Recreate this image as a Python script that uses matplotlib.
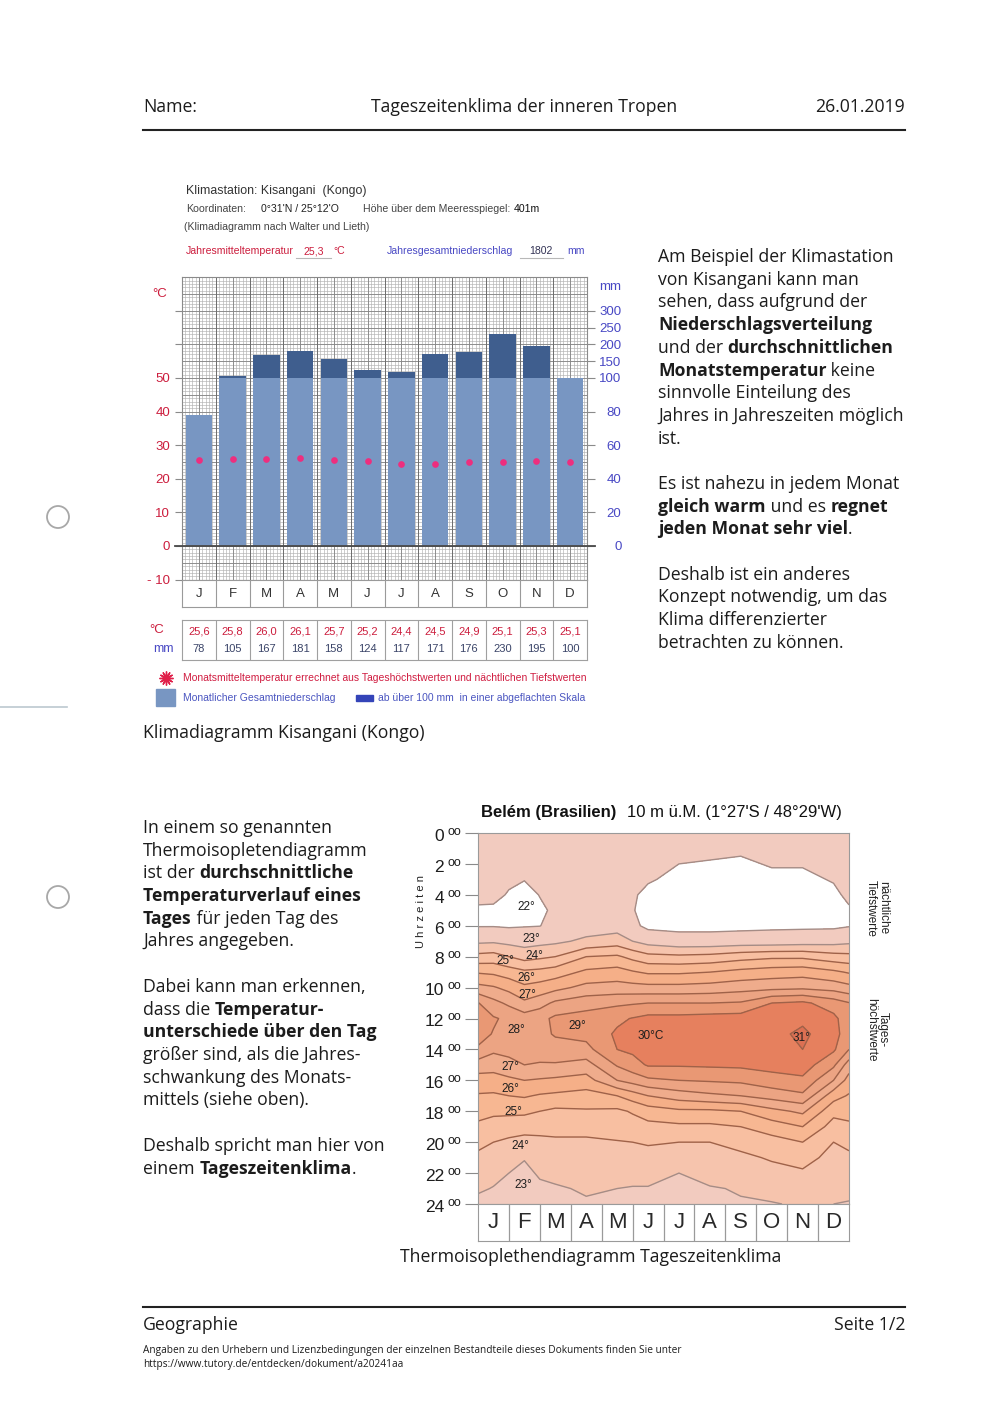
import numpy as np
import matplotlib
matplotlib.use("Agg")
import matplotlib.pyplot as plt
from matplotlib.lines import Line2D
from matplotlib.patches import Rectangle, Ellipse

W, H = 1000, 1416

# ---------------- Klimadiagramm Kisangani ----------------
months = ["J", "F", "M", "A", "M", "J", "J", "A", "S", "O", "N", "D"]
temp = [25.6, 25.8, 26.0, 26.1, 25.7, 25.2, 24.4, 24.5, 24.9, 25.1, 25.3, 25.1]
precip = [78, 105, 167, 181, 158, 124, 117, 171, 176, 230, 195, 100]
temp_ticks = [-10, 0, 10, 20, 30, 40, 50, 60, 70]
temp_ticklabels = ["- 10", "0", "10", "20", "30", "40", "50", "", ""]
precip_ticks = [0, 20, 40, 60, 80, 100, 150, 200, 250, 300]

# ---------------- Thermoisoplethen Belém ----------------
iso_months = ["J", "F", "M", "A", "M", "J", "J", "A", "S", "O", "N", "D"]
iso_x = [0, 0.5, 1.0, 1.5, 2.0, 2.5, 3.5, 4.5, 5.0, 5.5, 6.5, 7.5, 8.5, 9.5, 10.5, 11.5, 12]
iso_hours = list(range(25))
# mean temperature per hour (0..24 h)
t_start = [22.6, 22.5, 22.4, 22.3, 22.15, 21.92, 21.95, 22.8, 24.3, 25.9, 27.3, 29.05, 29.3,
           29.3, 28.9, 27.5, 26.6, 25.9, 25.35, 24.8, 24.25, 23.8, 23.45, 23.15, 22.7]
t_jan = [22.6, 22.45, 22.35, 22.25, 22.15, 21.9, 21.95, 22.85, 24.4, 25.8, 27.1, 28.3, 29.1,
         28.95, 28.2, 27.4, 26.6, 25.85, 25.2, 24.6, 24.0, 23.65, 23.3, 22.95, 22.7]
t_jan_feb = [22.55, 22.4, 22.25, 22.1, 21.95, 21.8, 21.9, 22.7, 24.0, 25.5, 26.7, 27.8, 28.8,
             28.8, 28.3, 27.7, 26.8, 26.0, 25.2, 24.5, 23.8, 23.3, 23.0, 22.8, 22.65]
t_feb = [22.5, 22.3, 22.15, 22.02, 21.8, 21.75, 21.95, 22.6, 23.6, 25.2, 26.2, 27.2, 28.5,
         28.7, 28.4, 28.0, 27.0, 26.1, 25.2, 24.4, 23.65, 23.05, 22.8, 22.7, 22.6]
t_feb_mar = [22.55, 22.4, 22.25, 22.15, 22.02, 21.9, 21.98, 22.7, 23.8, 25.3, 26.4, 27.6, 28.7,
             28.7, 28.5, 27.9, 26.9, 25.9, 25.0, 24.35, 23.75, 23.3, 23.1, 22.85, 22.7]
t_mar = [22.6, 22.45, 22.35, 22.25, 22.15, 22.1, 22.3, 22.8, 24.0, 25.5, 26.7, 28.2, 29.2,
         29.1, 28.6, 27.9, 26.8, 25.8, 24.8, 24.3, 23.85, 23.55, 23.25, 22.9, 22.8]
t_apr = [22.6, 22.5, 22.4, 22.35, 22.3, 22.35, 22.5, 23.2, 25.0, 26.2, 27.3, 28.6, 29.4,
         29.3, 28.7, 27.6, 26.6, 25.6, 24.9, 24.3, 23.85, 23.6, 23.35, 23.1, 22.9]
t_may = [22.6, 22.5, 22.4, 22.35, 22.35, 22.35, 22.55, 23.5, 25.15, 26.4, 27.4, 28.8, 29.8,
         30.15, 30.0, 29.1, 28.0, 26.0, 24.8, 24.4, 23.95, 23.65, 23.35, 23.0, 22.85]
t_may_jun = [22.6, 22.45, 22.35, 22.25, 22.1, 22.05, 22.2, 23.0, 24.7, 26.1, 27.35, 28.9, 30.05,
             30.35, 30.2, 29.6, 28.4, 26.5, 25.1, 24.55, 24.0, 23.65, 23.3, 22.95, 22.8]
t_jun = [22.55, 22.4, 22.25, 22.08, 21.8, 21.7, 21.8, 22.6, 24.3, 25.85, 27.3, 29.0, 30.3,
         30.5, 30.4, 30.1, 28.8, 27.0, 25.5, 24.7, 24.1, 23.65, 23.3, 22.95, 22.8]
t_jul = [22.4, 22.2, 22.0, 21.8, 21.7, 21.7, 21.8, 22.3, 24.2, 25.85, 27.3, 29.0, 30.3,
         30.5, 30.4, 30.1, 29.0, 27.5, 25.8, 24.8, 24.0, 23.5, 23.0, 22.85, 22.8]
t_aug = [22.4, 22.15, 21.95, 21.75, 21.7, 21.7, 21.8, 22.3, 24.3, 26.0, 27.4, 29.0, 30.4,
         30.55, 30.45, 30.15, 29.1, 27.8, 25.8, 24.8, 24.0, 23.6, 23.25, 22.95, 22.85]
t_sep = [22.35, 22.1, 21.9, 21.75, 21.7, 21.7, 21.8, 22.4, 24.6, 26.3, 27.6, 29.1, 30.45,
         30.6, 30.5, 30.2, 29.2, 28.0, 26.0, 25.0, 24.3, 23.8, 23.4, 23.05, 22.95]
t_oct = [22.4, 22.2, 22.05, 21.85, 21.75, 21.75, 21.85, 22.4, 24.8, 26.5, 27.7, 30.0, 30.6,
         30.7, 30.6, 30.35, 29.6, 28.4, 26.7, 25.5, 24.6, 24.1, 23.7, 23.3, 22.95]
t_nov = [22.4, 22.2, 22.05, 21.85, 21.75, 21.75, 21.85, 22.5, 24.8, 26.6, 27.8, 30.2, 30.8,
         31.2, 31.0, 30.5, 29.8, 28.8, 27.2, 26.0, 25.0, 24.4, 23.85, 23.4, 23.1]
t_dec = [22.5, 22.35, 22.2, 22.05, 21.85, 21.75, 21.85, 22.6, 24.4, 26.2, 27.6, 29.5, 30.25,
         30.4, 30.15, 29.2, 28.0, 26.4, 25.3, 24.6, 24.0, 23.65, 23.4, 23.2, 23.0]
t_end = [22.6, 22.5, 22.4, 22.3, 22.15, 21.92, 21.95, 22.75, 24.3, 25.9, 27.3, 29.05, 29.4,
         29.4, 29.0, 27.5, 26.6, 25.9, 25.35, 24.8, 24.25, 23.8, 23.45, 23.2, 22.95]
iso_levels = [22, 23, 24, 25, 26, 27, 28, 29, 30, 31]
iso_labels = [(1.55, 4.8, "22°"), (1.72, 6.85, "23°"), (1.82, 7.95, "24°"), (0.9, 8.3, "25°"),
              (1.55, 9.4, "26°"), (1.6, 10.45, "27°"), (1.25, 12.75, "28°"), (3.2, 12.5, "29°"),
              (5.6, 13.1, "30°C"), (10.45, 13.25, "31°"), (1.05, 15.15, "27°"),
              (1.05, 16.55, "26°"), (1.15, 18.05, "25°"), (1.38, 20.25, "24°"), (1.48, 22.75, "23°")]

text_right = [
    "Am Beispiel der Klimastation", "von Kisangani kann man", "sehen, dass aufgrund der",
    "**Niederschlagsverteilung**", "und der **durchschnittlichen**",
    "**Monatstemperatur** keine", "sinnvolle Einteilung des",
    "Jahres in Jahreszeiten möglich", "ist.", "",
    "Es ist nahezu in jedem Monat", "**gleich warm** und es **regnet**",
    "**jeden Monat sehr viel**.", "",
    "Deshalb ist ein anderes", "Konzept notwendig, um das", "Klima differenzierter",
    "betrachten zu können.",
]
text_left = [
    "In einem so genannten", "Thermoisopletendiagramm", "ist der **durchschnittliche**",
    "**Temperaturverlauf eines**", "**Tages** für jeden Tag des", "Jahres angegeben.", "",
    "Dabei kann man erkennen,", "dass die **Temperatur-**", "**unterschiede über den Tag**",
    "größer sind, als die Jahres-", "schwankung des Monats-", "mittels (siehe oben).", "",
    "Deshalb spricht man hier von", "einem **Tageszeitenklima**.",
]

RED = "#cc1d3d"
BLUE = "#4848c4"
INK = "#1c1c1c"
ARIAL = "Liberation Sans"
PAGE = "Open Sans"
PS = 12.7

fig = plt.figure(figsize=(10, 14.16), dpi=100)
renderer = fig.canvas.get_renderer()


def fx(x):
    return x / W


def fy(y):
    return 1 - y / H


def txt(x, y, s, size=7, color="#333333", family=ARIAL, **kw):
    kw.setdefault("va", "center")
    return fig.text(fx(x), fy(y), s, fontsize=size, color=color, family=family, **kw)


def line(xs, ys, **kw):
    fig.add_artist(Line2D([fx(v) for v in xs], [fy(v) for v in ys], **kw))


def add_ax(x0, y0, x1, y1):
    return fig.add_axes([fx(x0), fy(y1), (x1 - x0) / W, (y1 - y0) / H])


def text_width(s, weight, size):
    t = fig.text(0, 0, s, fontsize=size, fontweight=weight, family=PAGE)
    w = t.get_window_extent(renderer).width
    t.remove()
    return w


def rich(x, y, s, size=PS):
    for i, part in enumerate(s.split("**")):
        if not part:
            continue
        weight = "bold" if i % 2 else "normal"
        txt(x, y, part, size=size, color=INK, family=PAGE, fontweight=weight)
        x += text_width(part + ".", weight, size) - text_width(".", weight, size)


# ---------- page frame ----------
txt(143, 107, "Name:", PS, INK, PAGE)
txt(524, 107, "Tageszeitenklima der inneren Tropen", PS, INK, PAGE, ha="center")
txt(905, 107, "26.01.2019", PS, INK, PAGE, ha="right")
line([143, 905], [130, 130], color="#222222", lw=1.5)
line([143, 905], [1307, 1307], color="#222222", lw=1.5)
txt(143, 1325, "Geographie", PS, INK, PAGE)
txt(905, 1325, "Seite 1/2", PS, INK, PAGE, ha="right")
txt(143, 1350, "Angaben zu den Urhebern und Lizenzbedingungen der einzelnen Bestandteile dieses "
    "Dokuments finden Sie unter", 7.3, INK, PAGE)
txt(143, 1365, "https://www.tutory.de/entdecken/dokument/a20241aa", 7.3, INK, PAGE)
for cy in (517, 897):
    fig.add_artist(Ellipse((fx(58), fy(cy)), 22 / W, 22 / H, transform=fig.transFigure,
                           fill=False, ec="#a8a8a8", lw=1.3))
line([0, 67], [707, 707], color="#bcc8d0", lw=1.2)

for i, s in enumerate(text_right):
    if s:
        rich(658, 257 + 22.7 * i, s)
for i, s in enumerate(text_left):
    if s:
        rich(143, 828 + 22.7 * i, s)
txt(143, 733, "Klimadiagramm Kisangani (Kongo)", PS, INK, PAGE)
txt(400, 1257, "Thermoisoplethendiagramm Tageszeitenklima", PS, INK, PAGE)

# ---------- climate diagram header ----------
mean_t = f"{np.mean(temp):.1f}".replace(".", ",")
sum_p = f"{sum(precip)}"
txt(186, 191, "Klimastation: Kisangani  (Kongo)", 8.9)
txt(186, 209, "Koordinaten:", 7.6, "#444444")
txt(261, 209, "0°31'N / 25°12'O", 7.6, "#222222")
txt(363, 209, "Höhe über dem Meeresspiegel:", 7.6, "#444444")
txt(514, 209, "401m", 7.6, "#111111")
txt(184, 227, "(Klimadiagramm nach Walter und Lieth)", 7.6, "#444444")
txt(186, 251, "Jahresmitteltemperatur", 7.6, RED)
txt(314, 251, mean_t, 7.6, RED, ha="center")
txt(333, 251, "°C", 7.6, RED)
line([296, 331], [258, 258], color="#b8b8b8", lw=0.8)
txt(387, 251, "Jahresgesamtniederschlag", 7.6, BLUE)
txt(541, 251, sum_p, 7.6, "#333355", ha="center")
txt(567, 251, "mm", 7.6, BLUE)
line([520, 563], [258, 258], color="#b8b8b8", lw=0.8)

# ---------- climate diagram ----------
ylo, yhi = -10.12, 80.06
axc = add_ax(182, 277, 587, 580)
axc.set_xlim(0, 12)
axc.set_ylim(ylo, yhi)
axc.vlines(np.arange(0, 12.01, 0.1), ylo, yhi, color="#b2b2b2", lw=0.45, zorder=1)
axc.hlines(np.arange(-10, 80.5, 1), 0, 12, color="#b2b2b2", lw=0.45, zorder=1)
axc.vlines(np.arange(0, 12.01, 0.5), ylo, yhi, color="#858585", lw=0.6, zorder=1)
axc.hlines(np.arange(-10, 80.5, 5), 0, 12, color="#858585", lw=0.6, zorder=1)
axc.vlines(np.arange(0, 12.01, 1), ylo, yhi, color="#6e6e6e", lw=0.7, zorder=1)

xm = np.arange(12) + 0.5
p = np.array(precip, dtype=float)
axc.bar(xm, np.minimum(p, 100) / 2, width=0.79, color="#7896c2", zorder=3)
over = p > 100
axc.bar(xm[over], (p[over] - 100) / 10, bottom=50, width=0.79, color="#3f5e8e", zorder=3)
axc.plot(xm, temp, "o", ms=3.8, color="#ee2e7e", ls="none", zorder=4)

axc.set_xticks([])
axc.set_yticks(temp_ticks)
axc.set_yticklabels(temp_ticklabels)
axc.tick_params(axis="y", length=5, color="#8a8a8a", labelcolor=RED, labelsize=9.5, pad=3.5)
for lab in axc.get_yticklabels():
    lab.set_family(ARIAL)
for sp in axc.spines.values():
    sp.set_color("#8a8a8a")
    sp.set_linewidth(0.8)

axr = axc.twinx()
axr.set_ylim(ylo, yhi)
axr.set_yticks([v / 2 if v <= 100 else 50 + (v - 100) / 10 for v in precip_ticks])
axr.set_yticklabels([str(v) for v in precip_ticks])
axr.tick_params(axis="y", length=5.8, color="#8a8a8a", labelcolor=BLUE, labelsize=9.5, pad=19)
for lab in axr.get_yticklabels():
    lab.set_family(ARIAL)
    lab.set_ha("right")
for sp in axr.spines.values():
    sp.set_visible(False)

line([175, 595], [546, 546], color="#4a4a4a", lw=1.3, zorder=5)
txt(160, 294, "°C", 9.5, RED, ha="center")
txt(610, 287, "mm", 9.5, BLUE, ha="center")

axm = add_ax(182, 580, 587, 607)
axm.set_xlim(0, 12)
axm.set_ylim(0, 1)
axm.vlines(range(1, 12), 0, 1, color="#9a9a9a", lw=0.8)
for i, m in enumerate(months):
    axm.text(i + 0.5, 0.48, m, ha="center", va="center", fontsize=9.5, color="#333333",
             family=ARIAL)
axm.set_xticks([])
axm.set_yticks([])
for sp in axm.spines.values():
    sp.set_color("#9a9a9a")

axtab = add_ax(182, 620, 587, 660)
axtab.set_xlim(0, 12)
axtab.set_ylim(0, 2)
axtab.vlines(range(1, 12), 0, 2, color="#a0a0a0", lw=0.8)
for i in range(12):
    axtab.text(i + 0.5, 1.45, f"{temp[i]:.1f}".replace(".", ","), ha="center", va="center",
               fontsize=8, color=RED, family=ARIAL)
    axtab.text(i + 0.5, 0.55, str(precip[i]), ha="center", va="center", fontsize=8,
               color="#3a4468", family=ARIAL)
axtab.set_xticks([])
axtab.set_yticks([])
for sp in axtab.spines.values():
    sp.set_color("#a0a0a0")
txt(157, 630, "°C", 9.5, RED, ha="center")
txt(163, 649, "mm", 9, BLUE, ha="center")

# legend
fig.add_artist(Line2D([fx(166)], [fy(678)], marker=(12, 2, 0), ms=10, color="#e0204a", mew=1))
fig.add_artist(Line2D([fx(166)], [fy(678)], marker="o", ms=5, color="#e0204a"))
txt(183, 678, "Monatsmitteltemperatur errechnet aus Tageshöchstwerten und nächtlichen "
    "Tiefstwerten", 7.5, "#d01c40")
fig.add_artist(Rectangle((fx(156), fy(706)), 19 / W, 17 / H, transform=fig.transFigure,
                         color="#7896c2"))
txt(183, 698, "Monatlicher Gesamtniederschlag", 7.5, "#4a55c0")
fig.add_artist(Rectangle((fx(356), fy(701)), 17 / W, 6 / H, transform=fig.transFigure,
                         color="#3444b8"))
txt(378, 698, "ab über 100 mm  in einer abgeflachten Skala", 7.5, "#4a55c0")

# ---------- thermoisopleth diagram ----------
Z = np.column_stack([t_start, t_jan, t_jan_feb, t_feb, t_feb_mar, t_mar, t_apr, t_may,
                     t_may_jun, t_jun, t_jul, t_aug, t_sep, t_oct, t_nov, t_dec, t_end])
band_colors = ["#ffffff", "#f2cbbf", "#f6c4ad", "#f8bfa1", "#f7b792", "#f5af88", "#efac8c",
               "#eca483", "#e99874", "#e6805e", "#dc7053"]
axt = add_ax(478, 833, 849, 1204)
axt.contourf(iso_x, iso_hours, Z, levels=[0] + iso_levels + [50], colors=band_colors)
axt.contour(iso_x, iso_hours, Z, levels=[22, 23], colors="#a58c86", linewidths=1.0)
axt.contour(iso_x, iso_hours, Z, levels=iso_levels[2:], colors="#9f6249", linewidths=1.0)
for x, h, s in iso_labels:
    axt.text(x, h, s, ha="center", va="center", fontsize=8.5, color="#1e1e1e", family=ARIAL)
axt.set_xlim(0, 12)
axt.set_ylim(24, 0)
axt.set_xticks([])
axt.set_yticks(range(0, 25, 2))
axt.tick_params(axis="y", length=9.4, color="#8a8a8a", labelleft=False)
for sp in axt.spines.values():
    sp.set_color("#9a9a9a")
for h in range(0, 25, 2):
    yy = 833.3 + h * 371 / 24
    txt(444, yy + 3, str(h), 12.5, "#1e1e1e", ha="right")
    txt(448, yy - 1.5, "oo", 9, "#1e1e1e")

axtm = add_ax(478, 1204, 849, 1241)
axtm.set_xlim(0, 12)
axtm.set_ylim(0, 1)
axtm.vlines(range(1, 12), 0, 1, color="#9a9a9a", lw=0.9)
for i, m in enumerate(iso_months):
    axtm.text(i + 0.5, 0.5, m, ha="center", va="center", fontsize=16, color="#2a2a2a",
              family=ARIAL)
axtm.set_xticks([])
axtm.set_yticks([])
for sp in axtm.spines.values():
    sp.set_color("#9a9a9a")

txt(481, 813, "Belém (Brasilien)", 12, "#111111", fontweight="bold")
txt(627, 813, "10 m ü.M. (1°27'S / 48°29'W)", 12, "#111111")
txt(421, 912, "U h r z e i t e n", 8, "#222222", rotation=90, ha="center")
txt(877, 908, "nächtliche\nTiefstwerte", 8.5, "#222222", rotation=-90, ha="center",
    linespacing=1.0)
txt(877, 1030, "Tages-\nhöchstwerte", 8.5, "#222222", rotation=-90, ha="center",
    linespacing=1.0)

fig.savefig("out.png", dpi=100)
